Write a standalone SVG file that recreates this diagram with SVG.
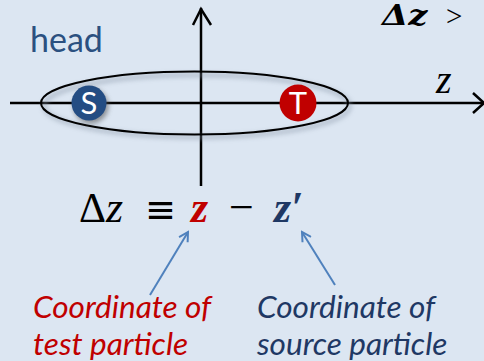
<svg xmlns="http://www.w3.org/2000/svg" width="484" height="361" viewBox="0 0 484 361">
<defs>
<filter id="sh" x="-20%" y="-50%" width="140%" height="200%"><feGaussianBlur stdDeviation="2.5"/></filter>
<marker id="ob" markerWidth="12" markerHeight="12" refX="10" refY="6" orient="auto" markerUnits="userSpaceOnUse"><path d="M1,1 L10,6 L1,11" fill="none" stroke="#4f81bd" stroke-width="2"/></marker>
</defs>
<style>
.ax{stroke:#000;stroke-width:2.5;fill:none}
.m{font-family:"Liberation Serif","DejaVu Serif",serif}
.lab{font-family:"Lato","Liberation Sans",sans-serif;font-style:italic;font-size:31.5px}
.conn{stroke:#4f81bd;stroke-width:2;fill:none}
</style>
<rect width="484" height="361" fill="#dce6f2"/>
<g id="axes">
<line class="ax" x1="201" y1="8" x2="201" y2="186"/>
<polyline class="ax" points="193,25 201,9 211,25"/>
<line class="ax" x1="10" y1="103" x2="484" y2="103"/>
<polyline class="ax" points="473,93 484,103 473,113"/>
</g>
<g id="bunch">
<ellipse cx="197" cy="106" rx="153" ry="31" fill="none" stroke="#8a97a8" stroke-width="3" filter="url(#sh)" opacity="0.7"/>
<ellipse cx="194.5" cy="103" rx="153.5" ry="31.5" fill="none" stroke="#000" stroke-width="2"/>
</g>
<g id="S">
<circle cx="91" cy="106" r="17.5" fill="#555" filter="url(#sh)" opacity="0.6"/>
<circle cx="89" cy="103" r="17.5" fill="#244d83"/>
<text x="89" y="114" text-anchor="middle" font-family="Lato,'Liberation Sans',sans-serif" font-size="31" fill="#fff">S</text>
</g>
<g id="T">
<circle cx="298" cy="103" r="18.5" fill="#c00000"/>
<text x="298" y="114" text-anchor="middle" font-family="Lato,'Liberation Sans',sans-serif" font-size="31" fill="#fff">T</text>
</g>
<text x="30" y="52" font-family="Lato,'Liberation Sans',sans-serif" font-size="34" fill="#2b5080">head</text>
<text class="m" x="436" y="93" font-size="40" font-style="italic">z</text>
<g id="top-note" transform="translate(382,25) scale(1.25,1)" font-family="'DejaVu Serif',serif" font-style="italic" font-weight="bold" font-size="27">
<text x="0" y="0">Δz</text>
</g>
<text class="m" x="446" y="26" font-size="29">&gt;</text>
<g id="formula">
<text class="m" x="79" y="222" font-size="42">Δ</text>
<text class="m" x="106" y="222" font-size="44" font-style="italic">z</text>
<text x="145" y="222" font-family="'DejaVu Sans',sans-serif" font-size="37">≡</text>
<text class="m" x="191" y="222" font-size="44" font-style="italic" font-weight="bold" fill="#c00000">z</text>
<text class="m" x="229" y="222" font-size="44">−</text>
<text class="m" x="274" y="222" font-size="44" font-style="italic" font-weight="bold" fill="#1f3864">z′</text>
</g>
<g id="connectors">
<line class="conn" x1="150" y1="295" x2="188" y2="232" marker-end="url(#ob)"/>
<line class="conn" x1="335" y1="285" x2="302" y2="232" marker-end="url(#ob)"/>
</g>
<g id="test-label">
<text class="lab" x="33" y="318" fill="#c00000">Coordinate of</text>
<text class="lab" x="33" y="355" fill="#c00000">test particle</text>
</g>
<g id="source-label">
<text class="lab" x="257" y="318" fill="#1f3864">Coordinate of</text>
<text class="lab" x="257" y="355" fill="#1f3864">source particle</text>
</g>
</svg>
